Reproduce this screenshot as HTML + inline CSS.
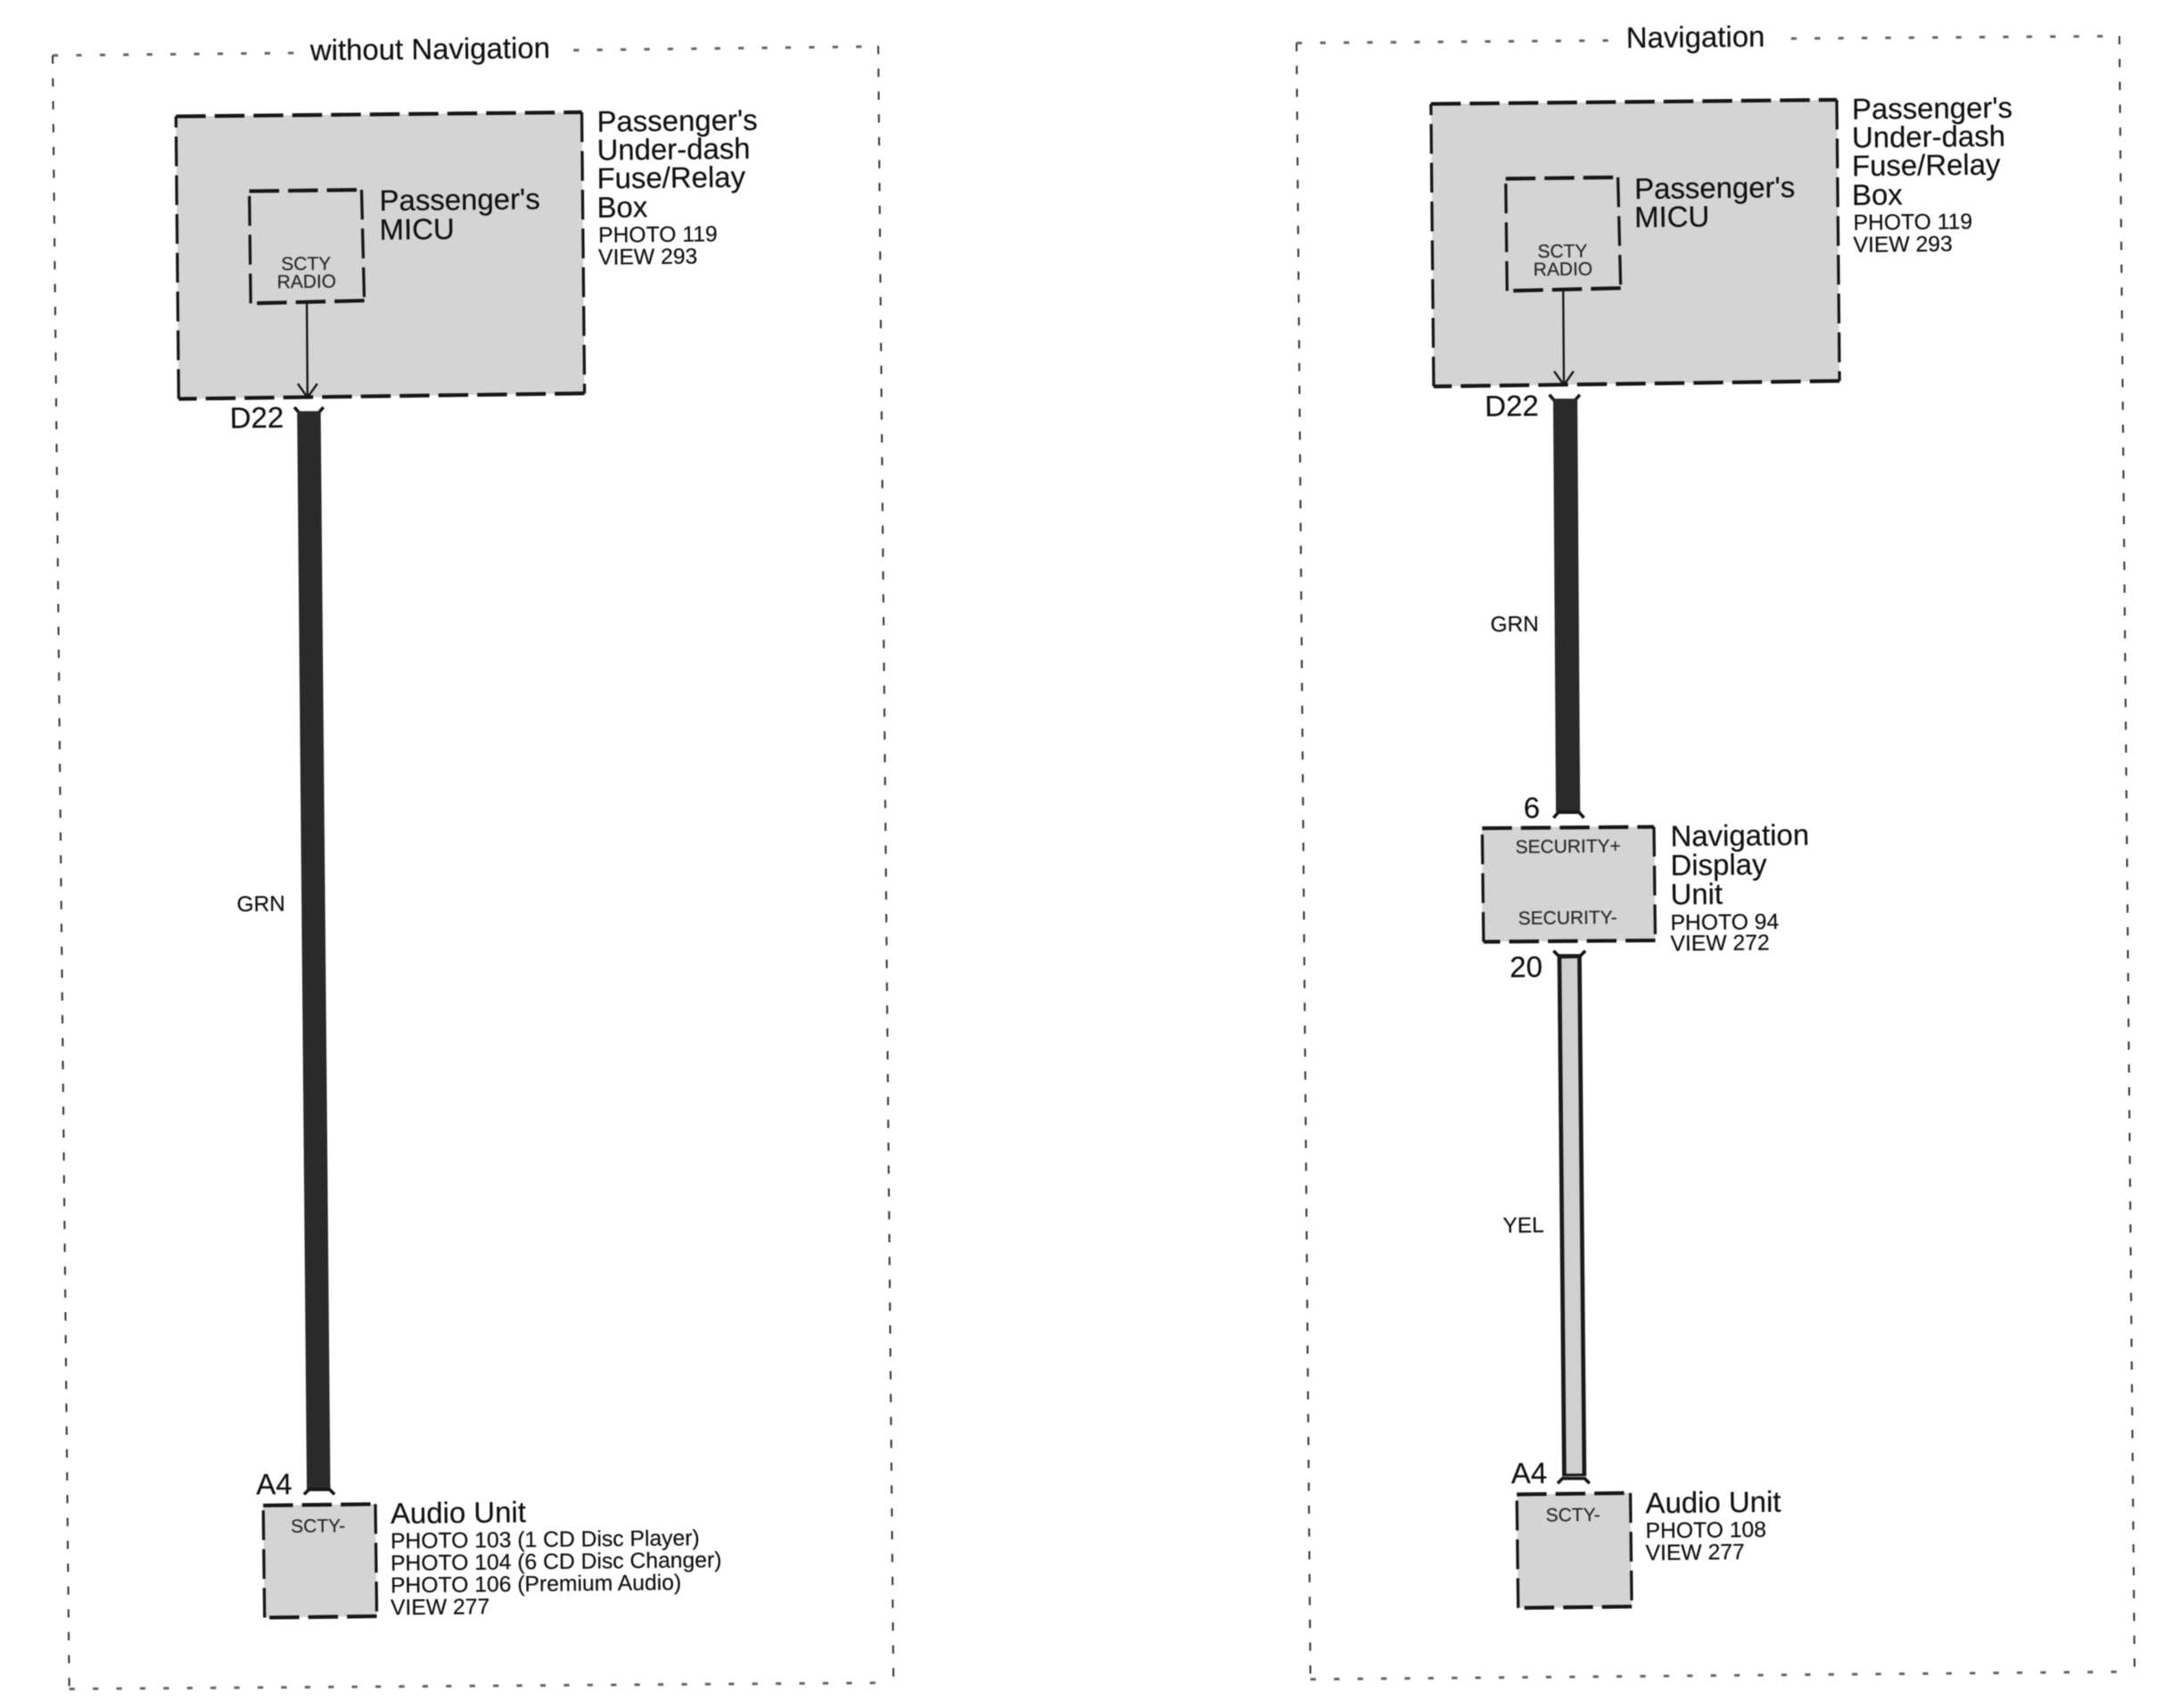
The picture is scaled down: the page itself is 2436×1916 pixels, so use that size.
<!DOCTYPE html>
<html><head><meta charset="utf-8"><style>
html,body{margin:0;padding:0;background:#fff}
svg{display:block;filter:blur(0.6px)}
text{font-family:"Liberation Sans",sans-serif;fill:#111;stroke:#111;stroke-width:.12}
.b{font-size:21.2px}.s{font-size:15.9px}.i{font-size:13.5px;fill:#2a2a2a;stroke:#2a2a2a}.w{font-size:15.7px}
.h{fill:none;stroke:#666;stroke-width:1.9;stroke-dasharray:4 13}
.v{fill:none;stroke:#333;stroke-width:1.3;stroke-dasharray:6 10.5}
.f{fill:#d4d4d4}
.x{fill:none;stroke:#161616;stroke-width:2.7;stroke-dasharray:21.5 6.5}
.y{fill:none;stroke:#161616;stroke-width:2.1;stroke-dasharray:21.5 6.5}
.t{fill:none;stroke:#161616;stroke-width:1.5}
.c{fill:none;stroke:#161616;stroke-width:2.3}
</style></head><body>
<svg xmlns="http://www.w3.org/2000/svg" width="2436" height="1916" viewBox="0 0 1568 1233.2">
<rect width="1568" height="1233.2" fill="#fff"/>

<!-- LEFT PANEL -->
<path class="h" d="M38 40 L214 38.2"/><path class="h" d="M414 36.2 L634 33.5"/>
<path class="h" d="M50 1219.5 L645 1215"/>
<path class="v" d="M38 40 L50 1219"/><path class="v" d="M634 33 L645 1215"/>
<text class="b" x="224" y="43.5" transform="rotate(-0.6 224 43.5)">without Navigation</text>

<polygon class="f" points="127,84 420,81 422,284 129,288"/>
<path class="x" d="M127 84 L420 81"/><path class="y" d="M420 81 L422 284"/><path class="x" d="M422 284 L129 288"/><path class="y" d="M129 288 L127 84"/>
<path class="x" d="M180 138 L261 137"/><path class="y" d="M261 137 L263 217"/><path class="x" d="M263 217 L181 219"/><path class="y" d="M181 219 L180 138"/>
<path class="t" d="M221.5 219 L222 287 M215 277 L222 287 L229 277"/>
<text class="b" x="431" y="95" transform="rotate(-0.6 431 95)">Passenger's</text>
<text class="b" x="431" y="115.5" transform="rotate(-0.6 431 115.5)">Under-dash</text>
<text class="b" x="431" y="136" transform="rotate(-0.6 431 136)">Fuse/Relay</text>
<text class="b" x="431" y="157" transform="rotate(-0.6 431 157)">Box</text>
<text class="s" x="432" y="175" transform="rotate(-0.6 432 175)">PHOTO 119</text>
<text class="s" x="432" y="191" transform="rotate(-0.6 432 191)">VIEW 293</text>
<text class="b" x="274" y="152" transform="rotate(-0.6 274 152)">Passenger's</text>
<text class="b" x="274" y="173" transform="rotate(-0.6 274 173)">MICU</text>
<text class="i" x="203" y="195" transform="rotate(-0.6 203 195)">SCTY</text>
<text class="i" x="200" y="208" transform="rotate(-0.6 200 208)">RADIO</text>

<text class="b" x="166" y="309" transform="rotate(-0.6 166 309)">D22</text>
<path class="c" d="M212.5 294 L216 298 L230 298 L233.5 294"/>
<path d="M223 297 L230 1076" fill="none" stroke="#2a2a2a" stroke-width="17"/>
<text class="w" x="171" y="658" transform="rotate(-0.6 171 658)">GRN</text>
<text class="b" x="185" y="1079" transform="rotate(-0.6 185 1079)">A4</text>
<path class="c" d="M219.5 1079 L223 1075.5 L238 1075.5 L241.5 1079"/>

<polygon class="f" points="190,1087 271,1086 272,1167 191,1168"/>
<path class="x" d="M190 1087 L271 1086"/><path class="y" d="M271 1086 L272 1167"/><path class="x" d="M272 1167 L191 1168"/><path class="y" d="M191 1168 L190 1087"/>
<text class="i" x="210" y="1106.5" transform="rotate(-0.6 210 1106.5)">SCTY-</text>
<text class="b" x="282" y="1100" transform="rotate(-0.6 282 1100)">Audio Unit</text>
<text class="s" x="282" y="1118" transform="rotate(-0.6 282 1118)">PHOTO 103 (1 CD Disc Player)</text>
<text class="s" x="282" y="1134" transform="rotate(-0.6 282 1134)">PHOTO 104 (6 CD Disc Changer)</text>
<text class="s" x="282" y="1150" transform="rotate(-0.6 282 1150)">PHOTO 106 (Premium Audio)</text>
<text class="s" x="282" y="1166" transform="rotate(-0.6 282 1166)">VIEW 277</text>

<!-- RIGHT PANEL -->
<path class="h" d="M936 31 L1163 29.2"/><path class="h" d="M1293 27.8 L1530 26"/>
<path class="h" d="M946 1212.5 L1541 1207"/>
<path class="v" d="M936 31 L946 1212"/><path class="v" d="M1530 26 L1541 1207"/>
<text class="b" x="1174" y="34.5" transform="rotate(-0.6 1174 34.5)">Navigation</text>

<polygon class="f" points="1033,75 1326,72 1328,275 1035,279"/>
<path class="x" d="M1033 75 L1326 72"/><path class="y" d="M1326 72 L1328 275"/><path class="x" d="M1328 275 L1035 279"/><path class="y" d="M1035 279 L1033 75"/>
<path class="x" d="M1087 129 L1168 128"/><path class="y" d="M1168 128 L1170 208"/><path class="x" d="M1170 208 L1088 210"/><path class="y" d="M1088 210 L1087 129"/>
<path class="t" d="M1128.5 210 L1129 278 M1122 268 L1129 278 L1136 268"/>
<text class="b" x="1337" y="86" transform="rotate(-0.6 1337 86)">Passenger's</text>
<text class="b" x="1337" y="106.5" transform="rotate(-0.6 1337 106.5)">Under-dash</text>
<text class="b" x="1337" y="127" transform="rotate(-0.6 1337 127)">Fuse/Relay</text>
<text class="b" x="1337" y="148" transform="rotate(-0.6 1337 148)">Box</text>
<text class="s" x="1338" y="166" transform="rotate(-0.6 1338 166)">PHOTO 119</text>
<text class="s" x="1338" y="182" transform="rotate(-0.6 1338 182)">VIEW 293</text>
<text class="b" x="1180" y="143.5" transform="rotate(-0.6 1180 143.5)">Passenger's</text>
<text class="b" x="1180" y="164" transform="rotate(-0.6 1180 164)">MICU</text>
<text class="i" x="1110" y="186" transform="rotate(-0.6 1110 186)">SCTY</text>
<text class="i" x="1107" y="199" transform="rotate(-0.6 1107 199)">RADIO</text>

<text class="b" x="1072" y="300.5" transform="rotate(-0.6 1072 300.5)">D22</text>
<path class="c" d="M1118.5 285 L1122 289 L1137 289 L1140.5 285"/>
<path d="M1130 288 L1132 586" fill="none" stroke="#2a2a2a" stroke-width="17.5"/>
<text class="w" x="1076" y="456" transform="rotate(-0.6 1076 456)">GRN</text>
<text class="b" x="1100" y="590.5" transform="rotate(-0.6 1100 590.5)">6</text>
<path class="c" d="M1121.5 590.5 L1125 586.5 L1140 586.5 L1143.5 590.5"/>

<polygon class="f" points="1070,597 1194,597 1195,679 1070,680"/>
<path class="x" d="M1070 598 L1194 597"/><path class="y" d="M1194 597 L1195 679"/><path class="x" d="M1195 679 L1071 680"/><path class="y" d="M1071 680 L1070 598"/>
<text class="i" x="1094" y="616" transform="rotate(-0.6 1094 616)">SECURITY+</text>
<text class="i" x="1096" y="667.5" transform="rotate(-0.6 1096 667.5)">SECURITY-</text>
<text class="b" x="1206" y="611" transform="rotate(-0.6 1206 611)">Navigation</text>
<text class="b" x="1206" y="632" transform="rotate(-0.6 1206 632)">Display</text>
<text class="b" x="1206" y="653" transform="rotate(-0.6 1206 653)">Unit</text>
<text class="s" x="1206" y="671.5" transform="rotate(-0.6 1206 671.5)">PHOTO 94</text>
<text class="s" x="1206" y="686.5" transform="rotate(-0.6 1206 686.5)">VIEW 272</text>

<text class="b" x="1090" y="705.5" transform="rotate(-0.6 1090 705.5)">20</text>
<path class="c" d="M1121.5 686.5 L1125 690 L1141 690 L1144.5 686.5"/>
<path d="M1133 690 L1136.5 1066" fill="none" stroke="#1a1a1a" stroke-width="17.5"/>
<path d="M1133 692 L1136.5 1064" fill="none" stroke="#d0d0d0" stroke-width="11.5"/>
<text class="w" x="1085" y="890" transform="rotate(-0.6 1085 890)">YEL</text>
<text class="b" x="1091" y="1071" transform="rotate(-0.6 1091 1071)">A4</text>
<path class="c" d="M1124.5 1071 L1128 1067.5 L1144 1067.5 L1147.5 1071"/>

<polygon class="f" points="1095,1079 1177,1078 1178,1160 1096,1161"/>
<path class="x" d="M1095 1079 L1177 1078"/><path class="y" d="M1177 1078 L1178 1160"/><path class="x" d="M1178 1160 L1096 1161"/><path class="y" d="M1096 1161 L1095 1079"/>
<text class="i" x="1116" y="1098.5" transform="rotate(-0.6 1116 1098.5)">SCTY-</text>
<text class="b" x="1188" y="1092.5" transform="rotate(-0.6 1188 1092.5)">Audio Unit</text>
<text class="s" x="1188" y="1110.5" transform="rotate(-0.6 1188 1110.5)">PHOTO 108</text>
<text class="s" x="1188" y="1126.5" transform="rotate(-0.6 1188 1126.5)">VIEW 277</text>
</svg>
</body></html>
